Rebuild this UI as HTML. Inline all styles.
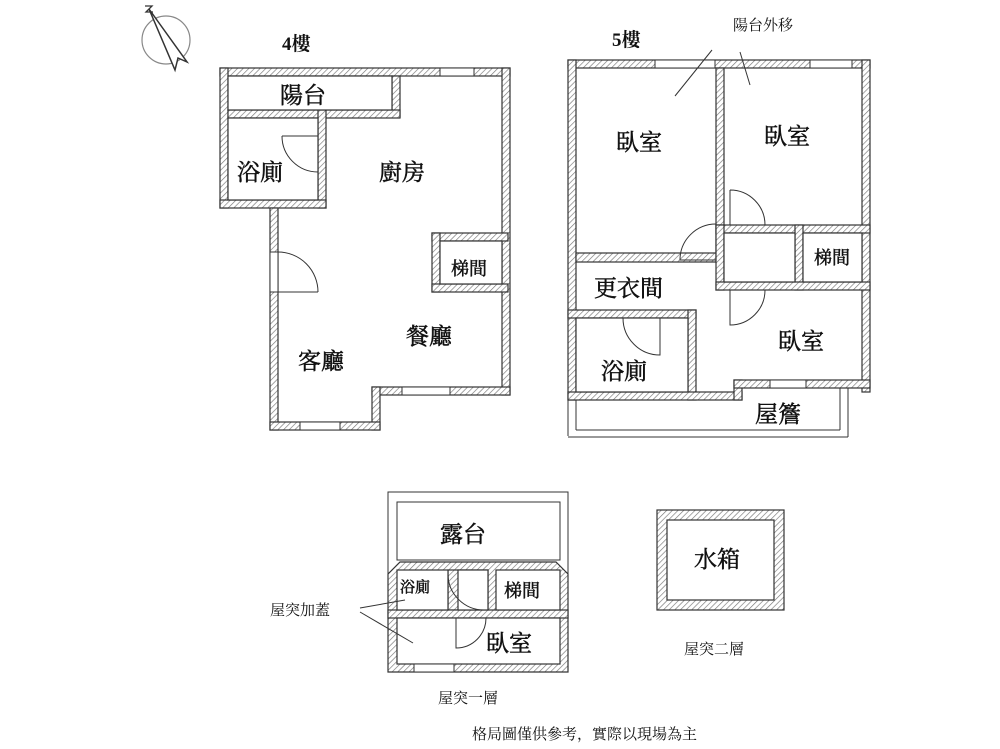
<!DOCTYPE html>
<html><head><meta charset="utf-8"><style>
html,body{margin:0;padding:0;background:#fff}
svg{display:block}
text{font-family:"Liberation Serif","Noto Serif CJK SC","Noto Sans CJK TC",serif;fill:#111}
.b text{stroke:#111;stroke-width:0.5}
</style></head><body>
<svg width="1000" height="749" viewBox="0 0 1000 749" xmlns="http://www.w3.org/2000/svg">
<defs>
<pattern id="h" width="4" height="4" patternUnits="userSpaceOnUse" patternTransform="rotate(45)">
<rect width="4" height="4" fill="#fff"/><line x1="0" y1="0" x2="0" y2="4" stroke="#777" stroke-width="1.3"/>
</pattern>
</defs>
<g fill="url(#h)" stroke="#333" stroke-width="1.2">
<rect x="220" y="68" width="290" height="8"/>
<rect x="220" y="68" width="8" height="140"/>
<rect x="392" y="76" width="8" height="41"/>
<rect x="228" y="110" width="172" height="8"/>
<rect x="318" y="110" width="8" height="98"/>
<rect x="220" y="200" width="106" height="8"/>
<rect x="270" y="208" width="8" height="222"/>
<rect x="502" y="68" width="8" height="327"/>
<rect x="432" y="233" width="76" height="8"/>
<rect x="432" y="233" width="8" height="59"/>
<rect x="432" y="284" width="76" height="8"/>
<rect x="372" y="387" width="138" height="8"/>
<rect x="372" y="387" width="8" height="43"/>
<rect x="270" y="422" width="110" height="8"/>
<rect x="568" y="60" width="302" height="8"/>
<rect x="568" y="60" width="8" height="340"/>
<rect x="862" y="60" width="8" height="332"/>
<rect x="716" y="68" width="8" height="194"/>
<rect x="576" y="253" width="140" height="9"/>
<rect x="716" y="225" width="154" height="8"/>
<rect x="716" y="225" width="8" height="65"/>
<rect x="795" y="225" width="8" height="65"/>
<rect x="716" y="282" width="154" height="8"/>
<rect x="568" y="310" width="128" height="8"/>
<rect x="688" y="310" width="8" height="90"/>
<rect x="568" y="392" width="174" height="8"/>
<rect x="734" y="380" width="8" height="20"/>
<rect x="734" y="380" width="136" height="8"/>
<path d="M388 574 L400 562 L556 562 L568 574 L568 672 L388 672 Z"/>
<rect x="448" y="570" width="40" height="40"/>
<rect x="388" y="610" width="180" height="8"/>
<rect x="657" y="510" width="127" height="100"/>
</g>
<g fill="#fff" stroke="#333" stroke-width="1.2">
<rect x="228" y="76" width="164" height="34"/>
<rect x="228" y="118" width="90" height="82"/>
<rect x="440" y="241" width="62" height="43"/>
<rect x="724" y="233" width="71" height="49"/>
<rect x="803" y="233" width="59" height="49"/>
<rect x="576" y="318" width="112" height="74"/>
<rect x="397" y="570" width="51" height="40"/>
<rect x="458" y="570" width="30" height="40"/>
<rect x="496" y="570" width="64" height="40"/>
<rect x="397" y="618" width="163" height="46"/>
<rect x="667" y="520" width="107" height="80"/>
</g>
<g fill="none" stroke="#333" stroke-width="1">
<rect x="270" y="252" width="8" height="40" fill="#fff"/>
<line x1="278" y1="292" x2="318" y2="292"/><path d="M278 252 A40 40 0 0 1 318 292"/>
<line x1="318" y1="136" x2="282" y2="136"/><path d="M282 136 A36 36 0 0 0 318 172"/>
<rect x="440" y="68" width="34" height="8" fill="#fff"/>
<rect x="300" y="422" width="40" height="8" fill="#fff"/>
<rect x="402" y="387" width="48" height="8" fill="#fff"/>
<line x1="568" y1="400" x2="568" y2="436"/><line x1="576" y1="400" x2="576" y2="430"/>
<line x1="576" y1="430" x2="840" y2="430"/><line x1="568" y1="437" x2="848" y2="437"/>
<line x1="840" y1="388" x2="840" y2="430"/><line x1="848" y1="388" x2="848" y2="437"/>
<path d="M730 190 L730 225 M730 190 A35 35 0 0 1 765 225"/>
<path d="M716 260 L680 260 A36 36 0 0 1 716 224"/>
<path d="M730 290 L730 325 A35 35 0 0 0 765 290"/>
<path d="M660 318 L660 355 A37 37 0 0 1 623 318"/>
<rect x="655" y="60" width="60" height="8" fill="#fff"/>
<rect x="810" y="60" width="42" height="8" fill="#fff"/>
<rect x="770" y="380" width="36" height="8" fill="#fff"/>
<rect x="388" y="492" width="180" height="180"/>
<rect x="397" y="502" width="163" height="58"/>
<path d="M448 574 A36 36 0 0 0 484 610"/>
<path d="M456 618 L456 648 A30 30 0 0 0 486 618"/>
<rect x="414" y="664" width="40" height="8" fill="#fff"/>
<line x1="360" y1="608" x2="405" y2="600"/>
<line x1="360" y1="612" x2="413" y2="643"/>
<line x1="712" y1="50" x2="675" y2="96"/>
<line x1="740" y1="52" x2="750" y2="85"/>
</g>
<g fill="none" stroke="#333" stroke-width="1.5">
<circle cx="166" cy="40" r="24" stroke="#888" stroke-width="1.2"/>
<path d="M149 9 L187 62 L178 58 L175 70 Z" fill="#fff"/>
<path d="M145 6 L152 6 L146 12 L153 12" stroke-width="1.3"/>
</g>
<g class="b" font-size="23">
<text x="280" y="103">陽台</text>
<text x="237" y="180">浴廁</text>
<text x="379" y="180">廚房</text>
<text x="406" y="344">餐廳</text>
<text x="298" y="369">客廳</text>
<text x="616" y="150">臥室</text>
<text x="764" y="144">臥室</text>
<text x="594" y="296">更衣間</text>
<text x="601" y="379">浴廁</text>
<text x="778" y="349">臥室</text>
<text x="755" y="422">屋簷</text>
<text x="440" y="542">露台</text>
<text x="486" y="651">臥室</text>
<text x="694" y="567">水箱</text>
</g>
<g class="b" font-size="18">
<text x="451" y="275">梯間</text>
<text x="814" y="264">梯間</text>
<text x="504" y="597">梯間</text>
<text x="400" y="592" font-size="15">浴廁</text>
</g>
<g font-size="15">
<text x="733" y="30">陽台外移</text>
<text x="270" y="615">屋突加蓋</text>
<text x="438" y="703">屋突一層</text>
<text x="684" y="654">屋突二層</text>
<text x="472" y="739">格局圖僅供參考，實際以現場為主</text>
</g>
<g font-size="19" font-weight="bold" style="font-family:'Liberation Sans','Noto Sans CJK TC',sans-serif">
<text x="282" y="50">4樓</text>
<text x="612" y="46">5樓</text>
</g>
</svg>
</body></html>
